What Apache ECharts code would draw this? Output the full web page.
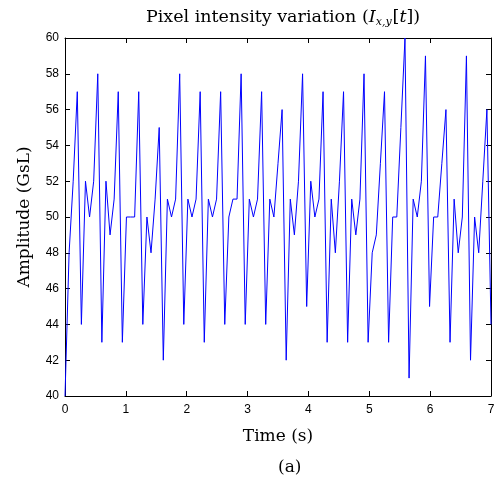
<!DOCTYPE html>
<html>
<head>
<meta charset="utf-8">
<script src="https://cdn.jsdelivr.net/npm/echarts@6/dist/echarts.min.js"></script>
<style>
  html, body { margin: 0; padding: 0; background: #fff; }
  #chart { width: 502px; height: 483px; }
</style>
</head>
<body>
<div id="chart"></div>
<script>
// pixel amplitude per frame (105 samples spanning 0..7 s)
const amplitude = [
  40, 48, 52, 57, 44, 52, 50, 52, 58, 43,
  52, 49, 51, 57, 43, 50, 50, 50, 57, 44,
  50, 48, 51, 55, 42, 51, 50, 51, 58, 44,
  51, 50, 51, 57, 43, 51, 50, 51, 57, 44,
  50, 51, 51, 58, 44, 51, 50, 51, 57, 44,
  51, 50, 53, 56, 42, 51, 49, 52, 58, 45,
  52, 50, 51, 57, 43, 51, 48, 52, 57, 43,
  51, 49, 51, 58, 43, 48, 49, 53, 57, 43,
  50, 50, 55, 60, 41, 51, 50, 52, 59, 45,
  50, 50, 53, 56, 43, 51, 48, 50, 59, 42,
  50, 48, 52, 56, 44
]
const tEnd = 7
const xTicks = [0, 1, 2, 3, 4, 5, 6, 7]
const yTicks = [40, 42, 44, 46, 48, 50, 52, 54, 56, 58, 60]

const step = tEnd / (amplitude.length - 1)
const lineData = amplitude.map((v, i) => [i * step, v])

const serif = 'DejaVu Serif'
const sans = 'Liberation Sans'

const chart = echarts.init(document.getElementById('chart'))

const axisCommon = {
  axisLine: { show: true, onZero: false, lineStyle: { color: '#000', width: 1 } },
  axisTick: { show: true, inside: true, length: 5, lineStyle: { color: '#000', width: 1 } },
  splitLine: { show: false }
}

const option = {
  animation: false,
  backgroundColor: '#fff',
  title: {
    text: '{n|Pixel intensity variation (}{i|I}{s|x,y}{n|[}{i|t}{n|])}',
    left: 278,
    top: 2,
    textAlign: 'center',
    textStyle: {
      fontWeight: 'normal',
      rich: {
        n: { fontFamily: serif, fontSize: 17.5, fontWeight: 'normal', color: '#000', lineHeight: 21 },
        i: { fontFamily: serif, fontSize: 17.5, fontWeight: 'normal', fontStyle: 'italic', color: '#000', lineHeight: 21 },
        s: { fontFamily: serif, fontSize: 11, fontWeight: 'normal', fontStyle: 'italic', color: '#000', verticalAlign: 'bottom', lineHeight: 12, padding: [7, 1, 0, 0] }
      }
    }
  },
  grid: { left: 65, top: 38, width: 426, height: 358 },
  xAxis: [
    Object.assign({
      type: 'value',
      min: xTicks[0],
      max: xTicks[xTicks.length - 1],
      interval: 1,
      name: 'Time (s)',
      nameLocation: 'middle',
      nameGap: 32,
      nameTextStyle: { fontFamily: serif, fontSize: 17, color: '#000' },
      axisLabel: { fontFamily: sans, fontSize: 12, color: '#000', margin: 8 }
    }, axisCommon),
    Object.assign({
      type: 'value',
      position: 'top',
      min: xTicks[0],
      max: xTicks[xTicks.length - 1],
      interval: 1,
      axisLabel: { show: false }
    }, axisCommon)
  ],
  yAxis: [
    Object.assign({
      type: 'value',
      min: yTicks[0],
      max: yTicks[yTicks.length - 1],
      interval: 2,
      name: 'Amplitude (GsL)',
      nameLocation: 'middle',
      nameGap: 32,
      nameTextStyle: { fontFamily: serif, fontSize: 17, color: '#000' },
      axisLabel: { fontFamily: sans, fontSize: 12, color: '#000', margin: 6 }
    }, axisCommon),
    Object.assign({
      type: 'value',
      position: 'right',
      min: yTicks[0],
      max: yTicks[yTicks.length - 1],
      interval: 2,
      axisLabel: { show: false }
    }, axisCommon)
  ],
  graphic: [
    {
      type: 'text',
      left: 278,
      top: 459,
      style: {
        text: '(a)',
        fontFamily: serif,
        fontSize: 17,
        fill: '#000',
        textAlign: 'center'
      }
    }
  ],
  series: [
    {
      name: 'intensity',
      type: 'line',
      xAxisIndex: 0,
      yAxisIndex: 0,
      data: lineData,
      showSymbol: false,
      lineStyle: { color: '#0000ff', width: 1 },
      z: 1
    }
  ]
}

chart.setOption(option)
</script>
</body>
</html>
